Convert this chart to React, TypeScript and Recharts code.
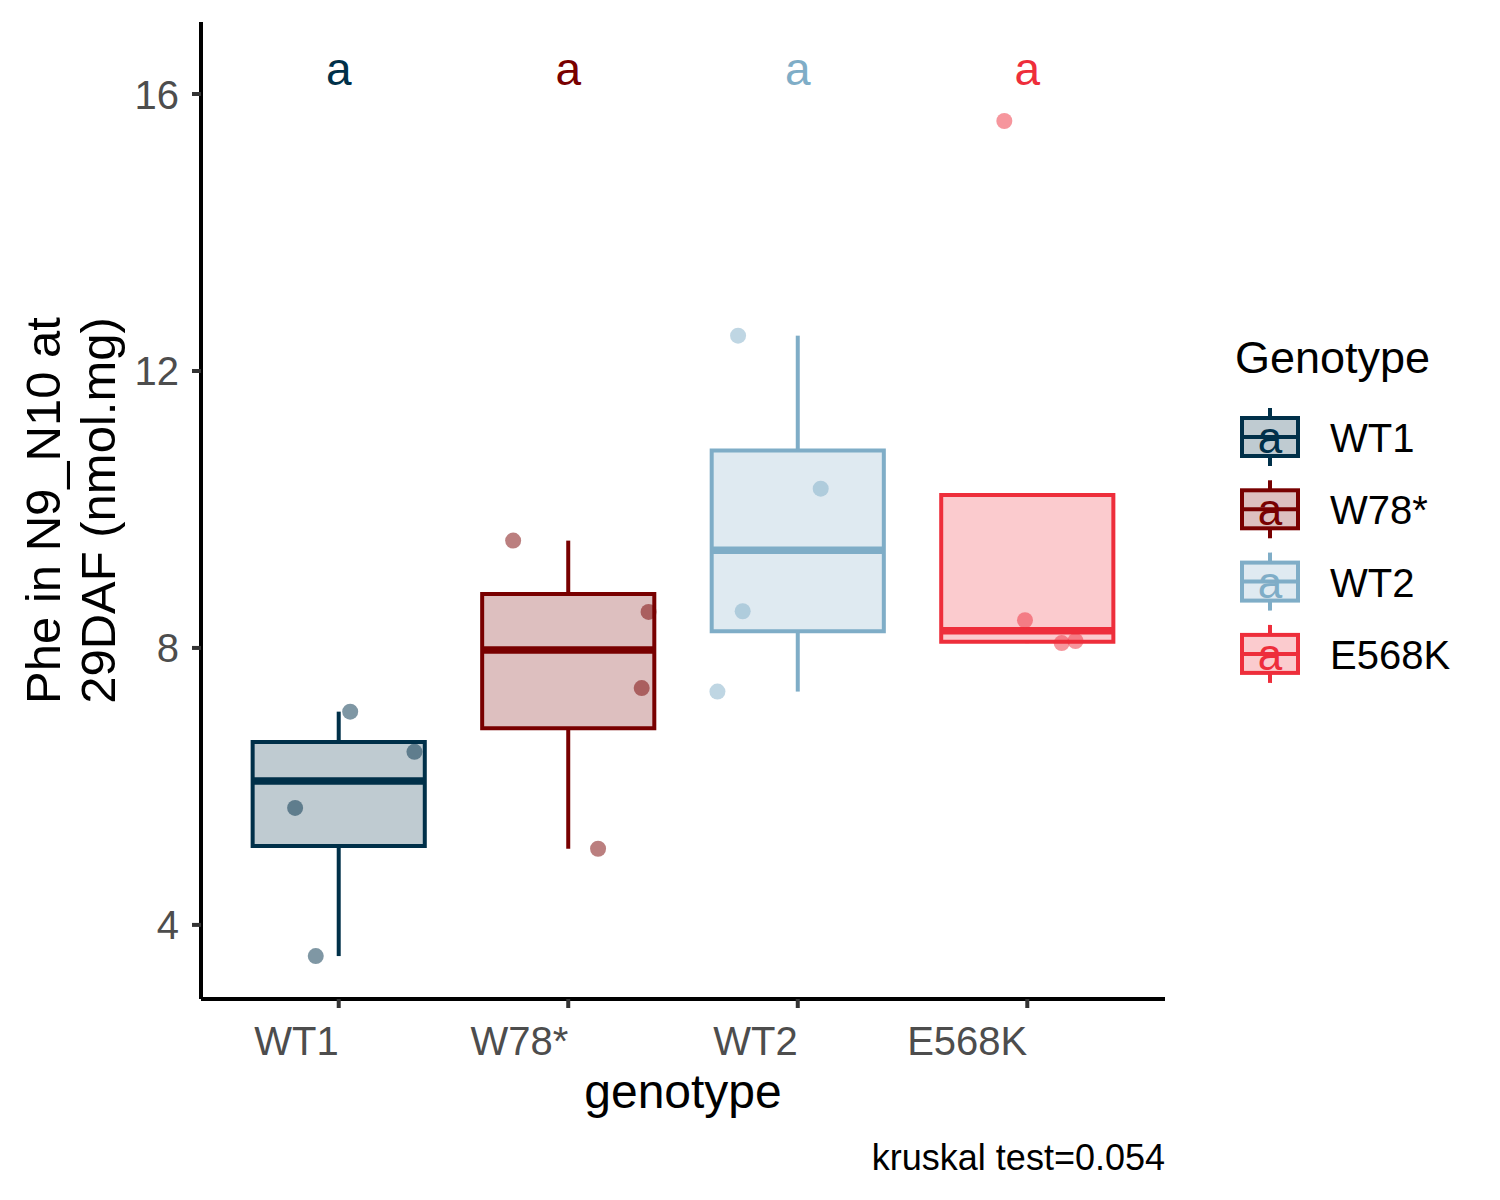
import React from "react";
import {
  ComposedChart, XAxis, YAxis, Scatter, ReferenceArea, ReferenceLine, Legend, Customized,
} from "recharts";

const FONT = "'Liberation Sans', Arial, sans-serif";

// groups and their colours
const genotypes = ["WT1", "W78*", "WT2", "E568K"];
const genotypeColors = ["#003049", "#780000", "#7FADC7", "#EE2E3B"];

// boxplot stats
const lowerWhisker = [3.55, 5.1, 7.37, 8.07];
const lowerHinge = [5.14, 6.84, 8.24, 8.09];
const medians = [6.08, 7.97, 9.41, 8.25];
const upperHinge = [6.64, 8.78, 10.85, 10.21];
const upperWhisker = [7.08, 9.55, 12.51, 10.21];

// jittered points (value + horizontal jitter in category units)
const wt1Values = [7.08, 6.5, 5.69, 3.55];
const wt1Jitter = [0.05, 0.33, -0.19, -0.1];
const w78Values = [9.55, 8.52, 7.42, 5.1];
const w78Jitter = [-0.24, 0.35, 0.32, 0.13];
const wt2Values = [12.51, 10.3, 8.53, 7.37];
const wt2Jitter = [-0.26, 0.1, -0.24, -0.35];
const e568kValues = [15.61, 8.4, 8.07, 8.1];
const e568kJitter = [-0.1, -0.01, 0.15, 0.21];

// significance letters
const letters = ["a", "a", "a", "a"];
const letterY = 16.13;

const xTicks = [1, 2, 3, 4];
const yTicks = [4, 8, 12, 16];
const caption = "kruskal test=0.054";

const pointGroups = [
  { values: wt1Values, jitter: wt1Jitter },
  { values: w78Values, jitter: w78Jitter },
  { values: wt2Values, jitter: wt2Jitter },
  { values: e568kValues, jitter: e568kJitter },
];

const pointData = pointGroups.map((grp, g) =>
  grp.values.map((v, i) => ({ x: g + 1 + grp.jitter[i], y: v }))
);

const letterData = letters.map((l, i) => ({ x: i + 1, y: letterY, text: l, color: genotypeColors[i] }));

const HALF = 0.375;
const LW = 4;

const XTick = ({ x, y, payload }: any) => (
  <text x={x} y={y + 45} textAnchor="end" fontSize={40} fill="#4D4D4D" fontFamily={FONT}>
    {genotypes[payload.value - 1]}
  </text>
);

const YTick = ({ x, y, payload }: any) => (
  <text x={x} y={y} dy={14.5} textAnchor="end" fontSize={40} fill="#4D4D4D" fontFamily={FONT}>
    {payload.value}
  </text>
);

const XTitle = ({ viewBox }: any) => (
  <text x={viewBox.x + viewBox.width / 2} y={viewBox.y + 109} textAnchor="middle" fontSize={48} fill="#000" fontFamily={FONT}>
    genotype
  </text>
);

const YTitle = ({ viewBox }: any) => {
  const cy = viewBox.y + viewBox.height / 2;
  return (
    <g fontSize={49} fill="#000" fontFamily={FONT}>
      <text x={60} y={cy} textAnchor="middle" transform={`rotate(-90, 60, ${cy})`}>Phe in N9_N10 at</text>
      <text x={115} y={cy} textAnchor="middle" transform={`rotate(-90, 115, ${cy})`}>29DAF (nmol.mg)</text>
    </g>
  );
};

const GenotypeLegend = () => (
  <svg width={280} height={380} style={{ display: "block", fontFamily: FONT }}>
    <text x={15} y={53} fontSize={45} fill="#000">Genotype</text>
    {genotypes.map((g, i) => {
      const cy = 117 + i * 72.3;
      const c = genotypeColors[i];
      return (
        <g key={g}>
          <line x1={50} x2={50} y1={cy - 29} y2={cy + 29} stroke={c} strokeWidth={LW} />
          <rect x={22} y={cy - 19} width={56} height={38} fill="#fff" />
          <rect x={22} y={cy - 19} width={56} height={38} fill={c} fillOpacity={0.25} stroke={c} strokeWidth={LW} />
          <line x1={22} x2={78} y1={cy} y2={cy} stroke={c} strokeWidth={LW} />
          <text x={50} y={cy + 16} textAnchor="middle" fontSize={44} fill={c}>a</text>
          <text x={110} y={cy + 15} fontSize={40} fill="#000">{g}</text>
        </g>
      );
    })}
  </svg>
);

const Caption = () => (
  <text x={1165} y={1170} textAnchor="end" fontSize={36} fill="#000" fontFamily={FONT}>
    {caption}
  </text>
);

export default function App() {
  return (
    <div style={{ position: "absolute", left: 0, top: 0, width: 1500, height: 1200, background: "#fff" }}>
      <ComposedChart width={1500} height={1200} margin={{ top: 22, right: 335, bottom: 101, left: 81 }}>
        <XAxis
          type="number"
          dataKey="x"
          domain={[0.4, 4.6]}
          ticks={xTicks}
          allowDataOverflow
          height={100}
          tick={<XTick />}
          tickSize={9}
          tickLine={{ stroke: "#333333", strokeWidth: LW }}
          axisLine={{ stroke: "#000", strokeWidth: LW }}
          label={<XTitle />}
        />
        <YAxis
          type="number"
          dataKey="y"
          domain={[2.93, 17.04]}
          ticks={yTicks}
          allowDataOverflow
          width={120}
          tick={<YTick />}
          tickSize={9}
          tickMargin={13}
          tickLine={{ stroke: "#333333", strokeWidth: LW }}
          axisLine={{ stroke: "#000", strokeWidth: LW }}
          label={<YTitle />}
        />
        {genotypes.map((g, i) => (
          <ReferenceLine
            key={`uw-${g}`}
            segment={[{ x: i + 1, y: upperHinge[i] }, { x: i + 1, y: upperWhisker[i] }]}
            stroke={genotypeColors[i]}
            strokeWidth={LW}
          />
        ))}
        {genotypes.map((g, i) => (
          <ReferenceLine
            key={`lw-${g}`}
            segment={[{ x: i + 1, y: lowerHinge[i] }, { x: i + 1, y: lowerWhisker[i] }]}
            stroke={genotypeColors[i]}
            strokeWidth={LW}
          />
        ))}
        {genotypes.map((g, i) => (
          <ReferenceArea
            key={`box-${g}`}
            x1={i + 1 - HALF}
            x2={i + 1 + HALF}
            y1={lowerHinge[i]}
            y2={upperHinge[i]}
            fill={genotypeColors[i]}
            fillOpacity={0.25}
            stroke={genotypeColors[i]}
            strokeOpacity={1}
            strokeWidth={LW}
          />
        ))}
        {genotypes.map((g, i) => (
          <ReferenceLine
            key={`med-${g}`}
            segment={[{ x: i + 1 - HALF, y: medians[i] }, { x: i + 1 + HALF, y: medians[i] }]}
            stroke={genotypeColors[i]}
            strokeWidth={7.5}
          />
        ))}
        {genotypes.map((g, i) => (
          <Scatter
            key={`pts-${g}`}
            name={g}
            data={pointData[i]}
            isAnimationActive={false}
            shape={(p: any) => (
              <circle cx={p.cx} cy={p.cy} r={8} fill={genotypeColors[i]} fillOpacity={0.5} />
            )}
          />
        ))}
        <Scatter
          name="letters"
          data={letterData}
          isAnimationActive={false}
          legendType="none"
          shape={(p: any) => (
            <text x={p.cx} y={p.cy} textAnchor="middle" fontSize={46} fill={p.payload.color} fontFamily={FONT}>
              {p.payload.text}
            </text>
          )}
        />
        <Legend
          layout="vertical"
          align="center"
          verticalAlign="middle"
          content={<GenotypeLegend />}
          wrapperStyle={{ left: 1220, top: 320, width: 280, height: 380 }}
        />
        <Customized component={<Caption />} />
      </ComposedChart>
    </div>
  );
}
